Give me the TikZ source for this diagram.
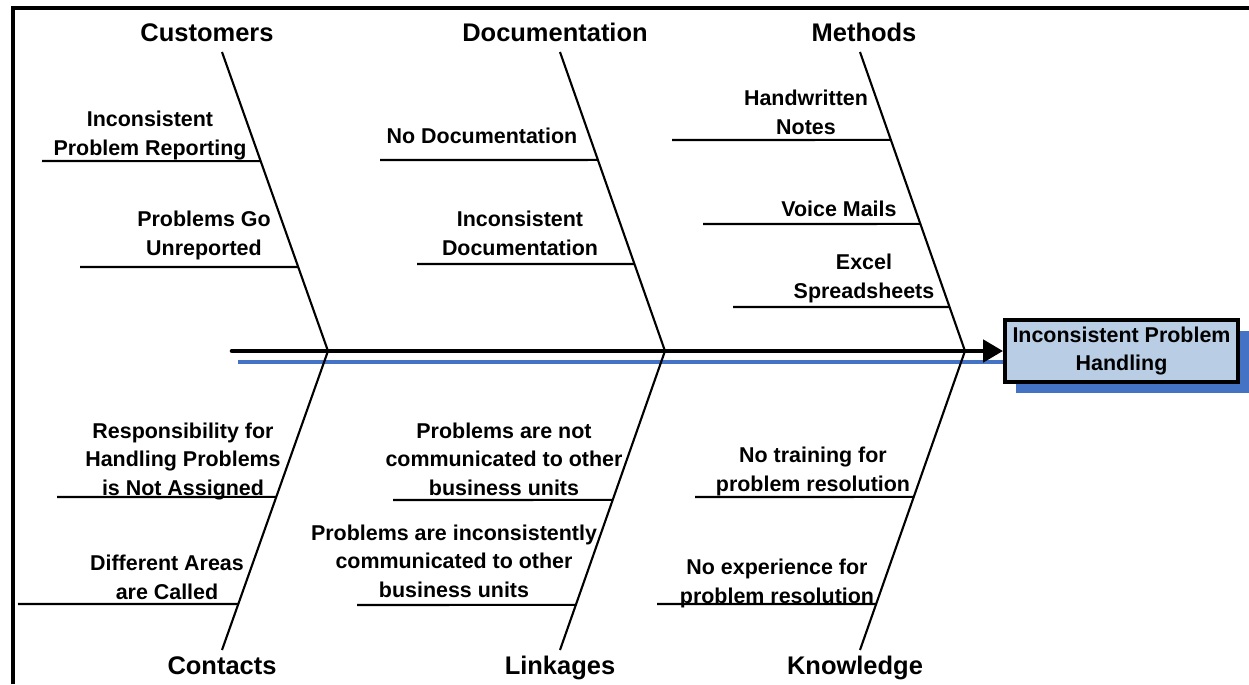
\documentclass[tikz,border=0pt]{standalone}
\usepackage{fontspec}
\setmainfont{Liberation Sans}
\usetikzlibrary{calc,arrows.meta,shadows}
\definecolor{spineblue}{RGB}{68,114,196}
\definecolor{headfill}{RGB}{185,205,229}

\begin{document}
\begin{tikzpicture}[x=0.02cm, y=-0.02cm,
            cat/.style={font=\fontsize{14.5}{17}\selectfont\bfseries, anchor=base, inner sep=0pt},
            cause/.style={font=\fontsize{12.2}{16}\selectfont\bfseries, align=center, anchor=base, inner sep=0pt},
            bone/.style={line width=1.2pt},
            head/.style={rectangle, draw=black, line width=2.2pt, fill=headfill, minimum width=4.66cm, minimum height=1.24cm, align=center,
                font=\fontsize{12.2}{16}\selectfont\bfseries,
                drop shadow={shadow xshift=0.22cm, shadow yshift=-0.22cm, fill=spineblue, opacity=1}},]
        \useasboundingbox (0,0) rectangle (1249,684);
        \draw[line width=2.2pt] (13,684) -- (13,8) -- (1249,8);

        \node[head](effect) at (1121.5,351) {Inconsistent Problem\\Handling};

        % spine
        \coordinate (tail) at (232,351);
        \coordinate (shade) at (238,362);
        \coordinate (j1) at (328,351);
        \coordinate (j2) at (665,351);
        \coordinate (j3) at (965,351);
        \draw[spineblue, line width=2.8pt] (shade) -- (shade -| effect.west);
        \draw[line width=2.6pt, line cap=round, -{Triangle[length=0.4cm, width=0.44cm]}] (tail) -- (effect.west);

        % main bones
        \coordinate (t1) at (222,52);
        \coordinate (t2) at (560,52);
        \coordinate (t3) at (860,52);
        \coordinate (b1) at (222,650);
        \coordinate (b2) at (560,650);
        \coordinate (b3) at (860,650);
        \draw[bone] (t1) -- (j1) -- (b1);
        \draw[bone] (t2) -- (j2) -- (b2);
        \draw[bone] (t3) -- (j3) -- (b3);

        \node[cat](customers) at (207,41) {Customers};
        \node[cat](documentation) at (555,41) {Documentation};
        \node[cat](methods) at (864,41) {Methods};
        \node[cat](contacts) at (222,674) {Contacts};
        \node[cat](linkages) at (560,674) {Linkages};
        \node[cat](knowledge) at (855,674) {Knowledge};

        % causes, top
        \node[cause](c1) at (150,155) {Inconsistent\\Problem Reporting};
        \node[cause](c2) at (204,255) {Problems Go\\Unreported};
        \node[cause](d1) at (482,143) {No Documentation};
        \node[cause](d2) at (520,255) {Inconsistent\\Documentation};
        \node[cause](m1) at (806,134) {Handwritten\\Notes};
        \node[cause](m2) at (839,216) {Voice Mails};
        \node[cause](m3) at (864,298) {Excel\\Spreadsheets};

        \coordinate (c1s) at (42,161);
        \coordinate (c2s) at (80,267);
        \coordinate (d1s) at (380,160);
        \coordinate (d2s) at (417,264);
        \coordinate (m1s) at (672,140);
        \coordinate (m2s) at (703,224);
        \coordinate (m3s) at (733,307);
        \draw[bone] (c1s) -- ($(t1)!0.365!(j1)$);
        \draw[bone] (c2s) -- ($(t1)!0.719!(j1)$);
        \draw[bone] (d1s) -- ($(t2)!0.361!(j2)$);
        \draw[bone] (d2s) -- ($(t2)!0.709!(j2)$);
        \draw[bone] (m1s) -- ($(t3)!0.294!(j3)$);
        \draw[bone] (m2s) -- ($(t3)!0.575!(j3)$);
        \draw[bone] (m3s) -- ($(t3)!0.853!(j3)$);

        % causes, bottom
        \node[cause](k1) at (183,495) {Responsibility for\\Handling Problems\\is Not Assigned};
        \node[cause](k2) at (167,599) {Different Areas\\are Called};
        \node[cause](l1) at (504,495) {Problems are not\\communicated to other\\business units};
        \node[cause](l2) at (454,597) {Problems are inconsistently\\communicated to other\\business units};
        \node[cause](n1) at (813,491) {No training for\\problem resolution};
        \node[cause](n2) at (777,603) {No experience for\\problem resolution};

        \coordinate (k1s) at (57,497);
        \coordinate (k2s) at (18,604);
        \coordinate (l1s) at (393,500);
        \coordinate (l2s) at (357,605);
        \coordinate (n1s) at (695,497);
        \coordinate (n2s) at (657,604);
        \draw[bone] (k1s) -- ($(j1)!0.488!(b1)$);
        \draw[bone] (k2s) -- ($(j1)!0.846!(b1)$);
        \draw[bone] (l1s) -- ($(j2)!0.498!(b2)$);
        \draw[bone] (l2s) -- ($(j2)!0.849!(b2)$);
        \draw[bone] (n1s) -- ($(j3)!0.488!(b3)$);
        \draw[bone] (n2s) -- ($(j3)!0.846!(b3)$);
    \end{tikzpicture}
\end{document}
